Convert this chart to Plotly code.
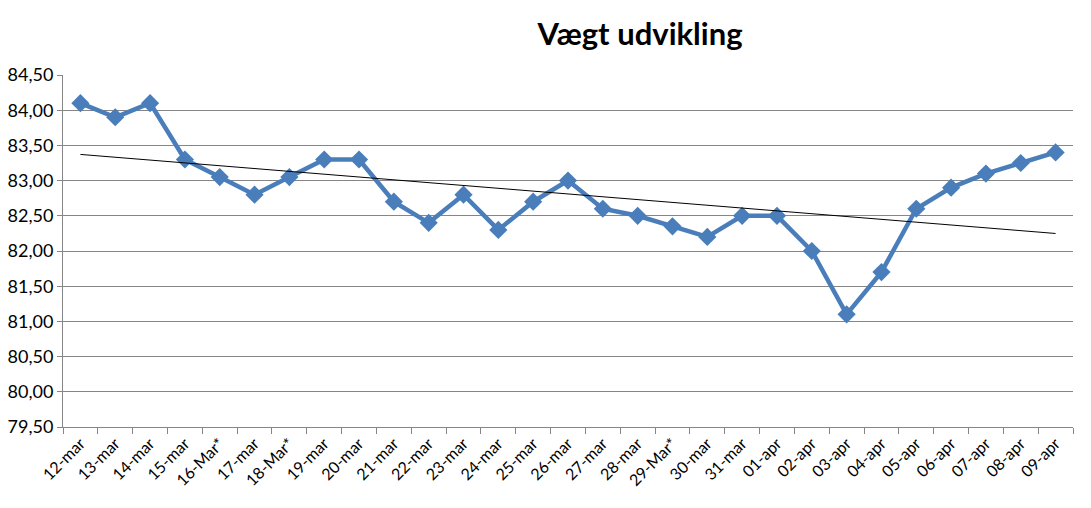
import numpy as np
import plotly.graph_objects as go

# Data
dates = ["12-mar", "13-mar", "14-mar", "15-mar", "16-Mar*", "17-mar", "18-Mar*",
         "19-mar", "20-mar", "21-mar", "22-mar", "23-mar", "24-mar", "25-mar",
         "26-mar", "27-mar", "28-mar", "29-Mar*", "30-mar", "31-mar", "01-apr",
         "02-apr", "03-apr", "04-apr", "05-apr", "06-apr", "07-apr", "08-apr", "09-apr"]
weight = [84.10, 83.90, 84.10, 83.30, 83.05, 82.80, 83.05,
          83.30, 83.30, 82.70, 82.40, 82.80, 82.30, 82.70,
          83.00, 82.60, 82.50, 82.35, 82.20, 82.50, 82.50,
          82.00, 81.10, 81.70, 82.60, 82.90, 83.10, 83.25, 83.40]

y_ticks = [79.5, 80.0, 80.5, 81.0, 81.5, 82.0, 82.5, 83.0, 83.5, 84.0, 84.5]
y_labels = [f"{v:.2f}".replace(".", ",") for v in y_ticks]

# linear trendline like Excel
idx = np.arange(len(weight))
slope, intercept = np.polyfit(idx, weight, 1)
trend = slope * idx + intercept

fig = go.Figure()
fig.add_trace(go.Scatter(x=dates, y=weight, mode="lines+markers", name="Vægt",
                         line=dict(color="#4a7ebb", width=4.5),
                         marker=dict(symbol="diamond", size=14, color="#4a7ebb")))
fig.add_trace(go.Scatter(x=dates, y=trend, mode="lines", name="Trend",
                         line=dict(color="black", width=1)))

# page body has an 8px margin, so the figure is a bit smaller than the window
fig.update_layout(
    width=1083, height=500,
    margin=dict(l=55, r=18, t=67, b=81),
    paper_bgcolor="white", plot_bgcolor="white",
    showlegend=False,
    font=dict(family="Lato, Noto Sans, sans-serif", color="black"),
    title=dict(text="<b>Vægt udvikling</b>", x=632 / 1083, xanchor="center",
               y=1 - 26 / 500, yanchor="middle",
               font=dict(size=31, color="black")),
)
fig.update_xaxes(type="category", range=[-0.5, len(dates) - 0.5],
                 tickangle=-45, tickfont=dict(size=16),
                 showline=True, linecolor="#868686", linewidth=1,
                 ticks="outside", tickson="boundaries", ticklen=6, tickcolor="#868686",
                 showgrid=False, automargin=False)
fig.update_yaxes(range=[79.5, 84.5], tickvals=y_ticks, ticktext=y_labels,
                 tickfont=dict(size=18),
                 showline=True, linecolor="#868686", linewidth=1,
                 ticks="outside", ticklen=5, tickcolor="#868686",
                 showgrid=True, gridcolor="#868686", gridwidth=1, zeroline=False,
                 automargin=False)

fig.write_html("out.html")
